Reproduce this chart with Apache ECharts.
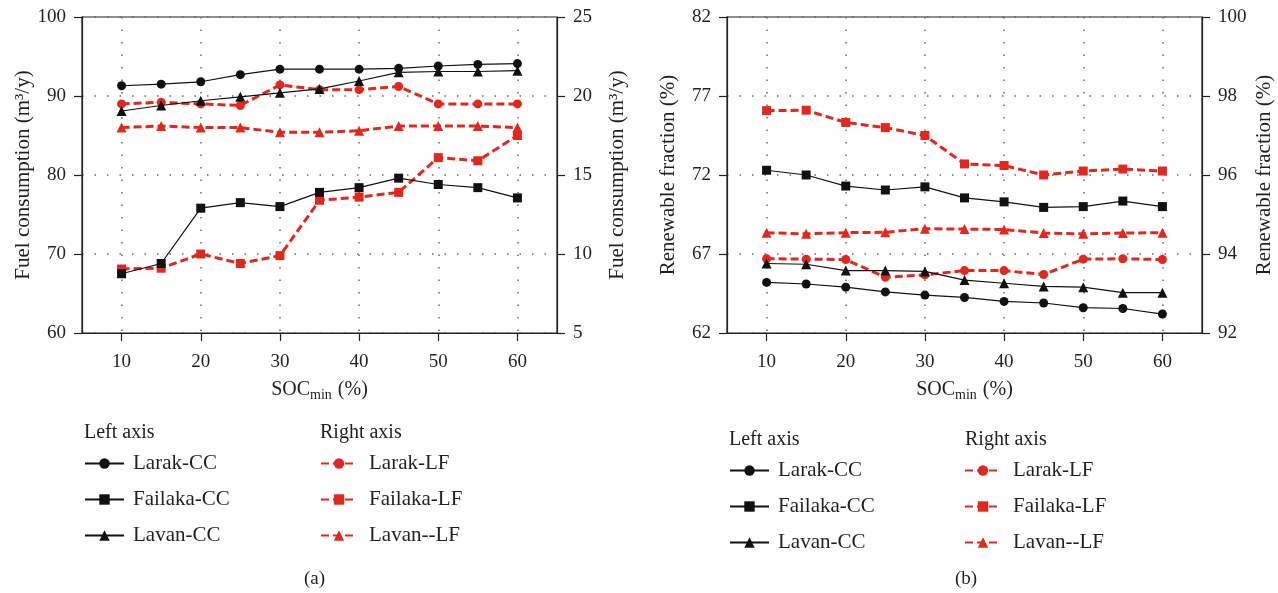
<!DOCTYPE html>
<html>
<head>
<meta charset="utf-8">
<script src="https://cdn.jsdelivr.net/npm/echarts@6/dist/echarts.min.js"></script>
<style>
html,body{margin:0;padding:0;background:#fff;}
#chart{width:1278px;height:593px;}
</style>
</head>
<body>
<div id="chart"></div>
<script>
// ---- data ----
const soc = [10, 15, 20, 25, 30, 35, 40, 45, 50, 55, 60];
const xTicks = [10, 20, 30, 40, 50, 60];

// (a) Fuel consumption (m3/y)
const fuelLarakCC   = [91.3, 91.5, 91.8, 92.7, 93.4, 93.4, 93.4, 93.5, 93.8, 94.0, 94.1];
const fuelFailakaCC = [67.5, 68.8, 75.8, 76.5, 76.0, 77.8, 78.4, 79.6, 78.8, 78.4, 77.1];
const fuelLavanCC   = [88.1, 88.8, 89.4, 89.9, 90.4, 90.9, 91.9, 93.0, 93.1, 93.1, 93.2];
const fuelLarakLF   = [19.5, 19.6, 19.5, 19.4, 20.7, 20.4, 20.4, 20.6, 19.5, 19.5, 19.5];
const fuelFailakaLF = [9.05, 9.1, 10.0, 9.4, 9.9, 13.4, 13.6, 13.9, 16.1, 15.9, 17.5];
const fuelLavanLF   = [18.0, 18.1, 18.0, 18.0, 17.7, 17.7, 17.8, 18.1, 18.1, 18.1, 18.0];

// (b) Renewable fraction (%)
const renLarakCC   = [65.2, 65.1, 64.9, 64.6, 64.4, 64.25, 64.0, 63.9, 63.6, 63.55, 63.2];
const renFailakaCC = [72.3, 72.0, 71.3, 71.05, 71.25, 70.55, 70.3, 69.95, 70.0, 70.35, 70.0];
const renLavanCC   = [66.4, 66.35, 65.95, 65.95, 65.9, 65.35, 65.15, 64.95, 64.9, 64.55, 64.55];
const renLarakLF   = [93.88, 93.87, 93.86, 93.41, 93.47, 93.58, 93.58, 93.48, 93.87, 93.88, 93.86];
const renFailakaLF = [97.63, 97.64, 97.33, 97.2, 97.0, 96.28, 96.24, 96.0, 96.1, 96.15, 96.1];
const renLavanLF   = [94.54, 94.51, 94.54, 94.55, 94.64, 94.63, 94.62, 94.53, 94.51, 94.53, 94.54];

const namesCC = ['Larak-CC', 'Failaka-CC', 'Lavan-CC'];
const namesLF = ['Larak-LF', 'Failaka-LF', 'Lavan--LF'];

// ---- styles ----
const FONT = 'Liberation Serif';
const TXT = '#231f20';
const RED = '#e2271d';
const BLK = '#111111';
const symbols = ['circle', 'rect', 'triangle'];
const symSizes = [9, 9, 10];

function pairs(vals) { return soc.map((s, i) => [s, vals[i]]); }

function ccSeries(name, idx, vals, xi, yi) {
  return {
    name: name, type: 'line', xAxisIndex: xi, yAxisIndex: yi,
    data: pairs(vals), symbol: symbols[idx], symbolSize: symSizes[idx],
    itemStyle: { color: BLK }, lineStyle: { color: BLK, width: 1.2 },
    z: 5, animation: false
  };
}
function lfSeries(name, idx, vals, xi, yi) {
  return {
    name: name, type: 'line', xAxisIndex: xi, yAxisIndex: yi,
    data: pairs(vals), symbol: symbols[idx], symbolSize: symSizes[idx],
    itemStyle: { color: RED }, lineStyle: { color: RED, width: 3, type: [8, 4] },
    z: 3, animation: false
  };
}

const dotted = { show: true, lineStyle: { color: '#666', width: 1.5, type: [1.5, 11] } };

function xAxisDef(gi) {
  return {
    type: 'value', gridIndex: gi, min: 5, max: 65,
    name: 'SOC{sub|min} (%)', nameLocation: 'middle', nameGap: 45,
    nameTextStyle: { fontFamily: FONT, fontSize: 20, color: TXT,
      rich: { sub: { fontFamily: FONT, fontSize: 14, color: TXT, padding: [10, 1, 0, 0] } } },
    axisLine: { show: true, lineStyle: { color: '#222', width: 1.2 } },
    axisTick: { show: true, inside: false, length: 8, customValues: xTicks, lineStyle: { color: '#222', width: 1.2 } },
    axisLabel: { customValues: xTicks, margin: 20, fontFamily: FONT, fontSize: 19, color: TXT },
    splitLine: dotted
  };
}
function yAxisDef(gi, pos, min, max, interval, name, split, gap) {
  return {
    type: 'value', gridIndex: gi, position: pos, min: min, max: max, interval: interval,
    name: name, nameLocation: 'middle', nameGap: gap,
    nameTextStyle: { fontFamily: FONT, fontSize: 21, color: TXT },
    axisLine: { show: true, lineStyle: { color: '#222', width: 1.2 } },
    axisTick: { show: true, inside: false, length: 8, lineStyle: { color: '#222', width: 1.2 } },
    axisLabel: { margin: 16, fontFamily: FONT, fontSize: 19, color: TXT },
    splitLine: split ? dotted : { show: false }
  };
}

function legendDef(names, left, top, w, padL) {
  return {
    data: names, orient: 'vertical', left: left, top: top, padding: 0,
    itemWidth: w, itemHeight: 13, itemGap: 13, selectedMode: false,
    textStyle: { fontFamily: FONT, fontSize: 21, color: TXT, lineHeight: 23, padding: [0, 0, 0, padL] }
  };
}

function txt(x, y, s, size) {
  return { type: 'text', left: x, top: y,
    style: { text: s, fontFamily: FONT, fontSize: size, fill: TXT } };
}

const option = {
  backgroundColor: '#fff',
  animation: false,
  grid: [
    { left: 82, top: 17, width: 475, height: 316, show: true, borderColor: '#222', borderWidth: 1.2, backgroundColor: 'transparent' },
    { left: 727, top: 17, width: 475, height: 316, show: true, borderColor: '#222', borderWidth: 1.2, backgroundColor: 'transparent' }
  ],
  xAxis: [xAxisDef(0), xAxisDef(1)],
  yAxis: [
    yAxisDef(0, 'left', 60, 100, 10, 'Fuel consumption (m³/y)', true, 48),
    yAxisDef(0, 'right', 5, 25, 5, 'Fuel consumption (m³/y)', false, 50),
    yAxisDef(1, 'left', 62, 82, 5, 'Renewable fraction (%)', true, 48),
    yAxisDef(1, 'right', 92, 100, 2, 'Renewable fraction (%)', false, 52)
  ],
  legend: [
    legendDef(namesCC, 84, 452, 39, 4),
    legendDef(namesLF, 320, 452, 36, 7),
    legendDef(namesCC, 729, 459, 39, 4),
    legendDef(namesLF, 964, 459, 36, 7)
  ],
  graphic: [
    txt(84, 423, 'Left axis', 20),
    txt(320, 423, 'Right axis', 20),
    txt(729, 430, 'Left axis', 20),
    txt(965, 430, 'Right axis', 20),
    txt(304, 570, '(a)', 19),
    txt(955, 570, '(b)', 19)
  ],
  series: [
    lfSeries(namesLF[0], 0, fuelLarakLF, 0, 1),
    lfSeries(namesLF[1], 1, fuelFailakaLF, 0, 1),
    lfSeries(namesLF[2], 2, fuelLavanLF, 0, 1),
    ccSeries(namesCC[0], 0, fuelLarakCC, 0, 0),
    ccSeries(namesCC[1], 1, fuelFailakaCC, 0, 0),
    ccSeries(namesCC[2], 2, fuelLavanCC, 0, 0),
    lfSeries(namesLF[0], 0, renLarakLF, 1, 3),
    lfSeries(namesLF[1], 1, renFailakaLF, 1, 3),
    lfSeries(namesLF[2], 2, renLavanLF, 1, 3),
    ccSeries(namesCC[0], 0, renLarakCC, 1, 2),
    ccSeries(namesCC[1], 1, renFailakaCC, 1, 2),
    ccSeries(namesCC[2], 2, renLavanCC, 1, 2)
  ]
};

const chart = echarts.init(document.getElementById('chart'), null, { renderer: 'canvas' });
chart.setOption(option);
</script>
</body>
</html>
